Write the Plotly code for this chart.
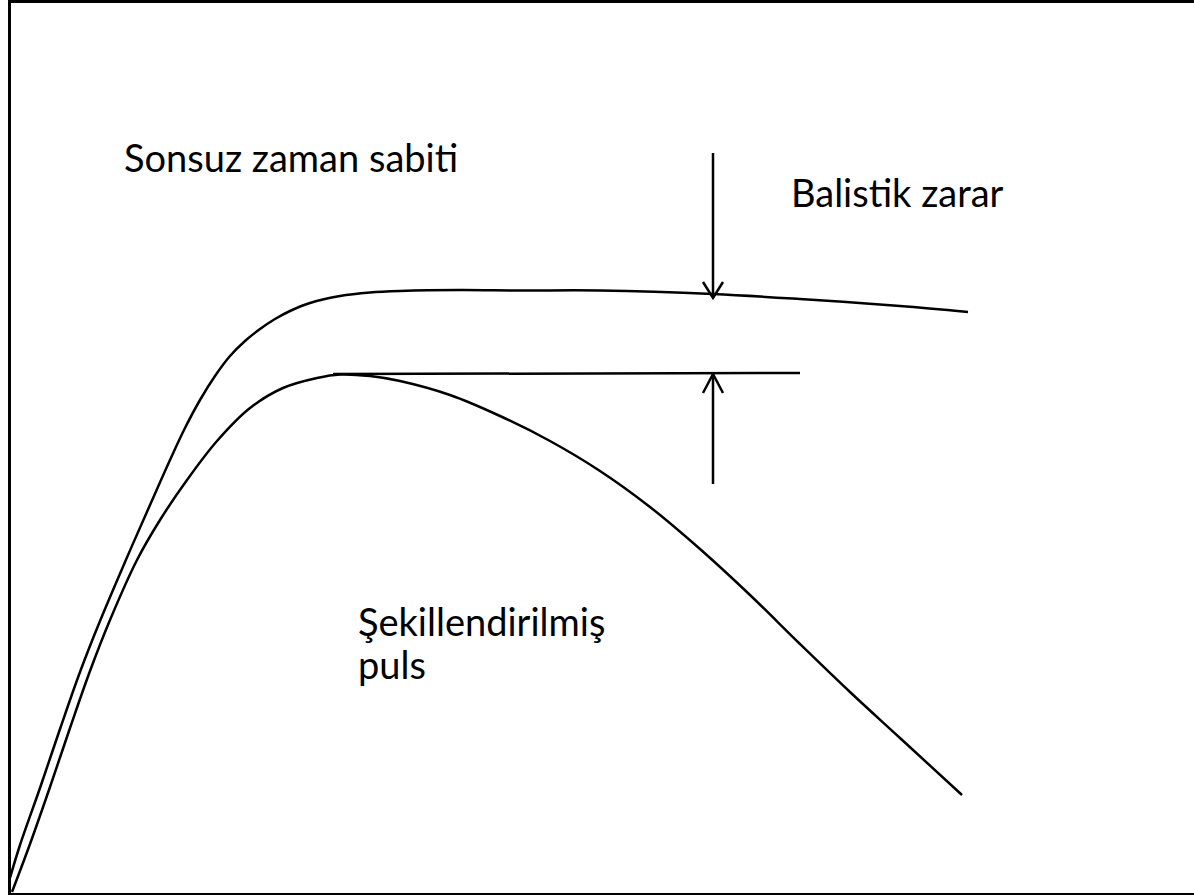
import plotly.graph_objects as go

# Curve data (diagram coordinates, y grows downward)
upper_x = [10, 20, 40, 60, 80, 100, 125, 150, 170, 185, 200, 215, 230, 245, 260, 275, 290, 310, 340, 370, 400, 460, 520, 600, 713, 800, 900, 968]
upper_y = [878, 845, 788, 729, 672, 621, 562, 505, 460, 428, 400, 376, 356, 341, 329, 319, 311, 303, 296, 292.5, 291, 290, 290.5, 290.5, 294, 299, 306, 312]

lower_x = [12, 30, 50, 70, 90, 110, 137, 160, 187, 217, 250, 283, 317, 340, 370, 400, 450, 500, 550, 600, 650, 700, 750, 800, 850, 900, 962]
lower_y = [892, 844, 787, 728, 671, 620, 560, 520, 480, 441, 408, 388, 378, 374.5, 376, 381, 395, 416, 441, 471, 507, 549, 595, 644, 692, 738, 795]

flat_x = [333, 800]
flat_y = [374, 373]

down_arrow_x = [713, 713, None, 703, 713, 723]
down_arrow_y = [153, 298, None, 282, 298, 282]
up_arrow_x = [713, 713, None, 703, 713, 723]
up_arrow_y = [484, 374, None, 393, 374, 393]

labels = ["Sonsuz zaman sabiti", "Balistik zarar", "Şekillendirilmiş", "puls"]
label_x = [122, 789, 356, 356]
label_y = [157, 192, 621, 664]

fig = go.Figure()
line_style = dict(color="black", width=2.5)
fig.add_trace(go.Scatter(x=upper_x, y=upper_y, mode="lines", line=dict(shape="spline", smoothing=1.0, **line_style)))
fig.add_trace(go.Scatter(x=lower_x, y=lower_y, mode="lines", line=dict(shape="spline", smoothing=1.0, **line_style)))
fig.add_trace(go.Scatter(x=flat_x, y=flat_y, mode="lines", line=line_style))
fig.add_trace(go.Scatter(x=down_arrow_x, y=down_arrow_y, mode="lines", line=line_style))
fig.add_trace(go.Scatter(x=up_arrow_x, y=up_arrow_y, mode="lines", line=line_style))

for t, x, y in zip(labels, label_x, label_y):
    fig.add_annotation(x=x, y=y, text=t, showarrow=False, xanchor="left", yanchor="middle",
                       font=dict(family="Lato", size=38, color="black"))

fig.update_layout(
    width=1194, height=895,
    margin=dict(l=11, r=0, t=3, b=2),
    plot_bgcolor="white", paper_bgcolor="white",
    showlegend=False,
    xaxis=dict(range=[11, 1194], showgrid=False, zeroline=False, showticklabels=False, ticks="",
               showline=True, linecolor="black", linewidth=3, mirror=True),
    yaxis=dict(range=[893, 3], showgrid=False, zeroline=False, showticklabels=False, ticks="",
               showline=True, linecolor="black", linewidth=3, mirror=False),
)

fig.write_html("out.html", config={"displayModeBar": False},
               post_script="document.body.style.margin='0';")
